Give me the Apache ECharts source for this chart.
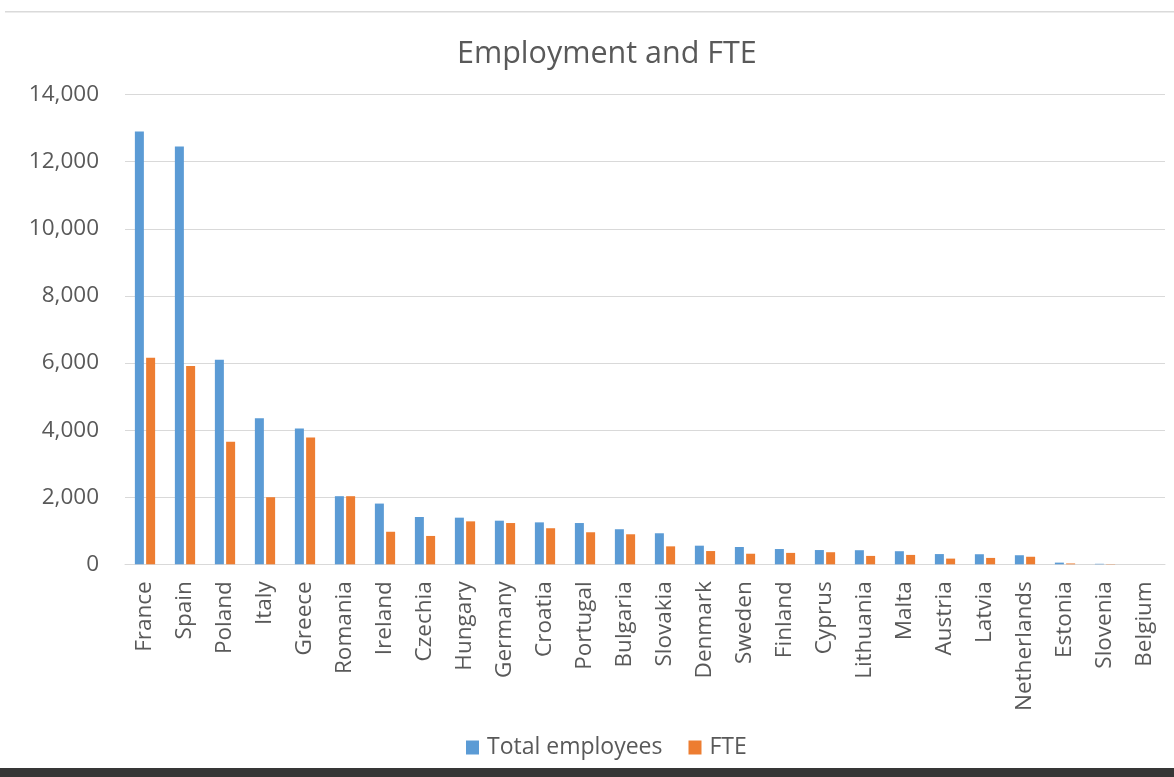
<!DOCTYPE html>
<html>
<head>
<meta charset="utf-8">
<script src="https://cdn.jsdelivr.net/npm/echarts@6/dist/echarts.min.js"></script>
<style>
  html, body { margin: 0; padding: 0; background: #fff; }
  #chart { width: 1174px; height: 777px; }
</style>
</head>
<body>
<div id="chart"></div>
<script>
const countries = ['France', 'Spain', 'Poland', 'Italy', 'Greece', 'Romania', 'Ireland', 'Czechia',
  'Hungary', 'Germany', 'Croatia', 'Portugal', 'Bulgaria', 'Slovakia', 'Denmark', 'Sweden',
  'Finland', 'Cyprus', 'Lithuania', 'Malta', 'Austria', 'Latvia', 'Netherlands', 'Estonia',
  'Slovenia', 'Belgium']

const totalEmployees = [12900, 12450, 6100, 4350, 4050, 2030, 1810, 1410,
  1390, 1300, 1250, 1230, 1045, 925, 555, 515,
  455, 425, 420, 390, 305, 300, 270, 50,
  15, 0]

const fte = [6160, 5910, 3650, 2000, 3780, 2030, 970, 845,
  1280, 1230, 1075, 955, 895, 535, 395, 315,
  340, 360, 250, 280, 170, 190, 225, 25,
  8, 0]

const yTicks = { min: 0, max: 14000, interval: 2000 }

const textColor = '#595959'
const font = 'Open Sans'

const chart = echarts.init(document.getElementById('chart'))

const option = {
  backgroundColor: '#fff',
  animation: false,
  title: {
    text: 'Employment and FTE',
    left: 452,
    top: 34,
    textStyle: { color: textColor, fontFamily: font, fontSize: 30.5, fontWeight: 'normal' }
  },
  legend: {
    data: ['Total employees', 'FTE'],
    left: 461,
    top: 731,
    icon: 'rect',
    itemWidth: 13,
    itemHeight: 14,
    itemGap: 26,
    itemStyle: { borderWidth: 0 },
    textStyle: { color: textColor, fontFamily: font, fontSize: 23, padding: [0, 0, 0, 3] }
  },
  grid: {
    left: 125,
    right: 9,
    top: 94.6,
    bottom: 212.7,
    containLabel: false
  },
  xAxis: {
    type: 'category',
    data: countries,
    axisLine: { lineStyle: { color: '#D9D9D9', width: 1 } },
    axisTick: { show: false },
    axisLabel: {
      rotate: 90,
      margin: 17,
      interval: 0,
      color: textColor,
      fontFamily: font,
      fontSize: 22.5
    }
  },
  yAxis: {
    type: 'value',
    min: yTicks.min,
    max: yTicks.max,
    interval: yTicks.interval,
    axisLine: { show: false },
    axisTick: { show: false },
    splitLine: { lineStyle: { color: '#D9D9D9', width: 1 } },
    axisLabel: {
      margin: 26,
      color: textColor,
      fontFamily: font,
      fontSize: 22.5
    }
  },
  series: [
    {
      name: 'Total employees',
      type: 'bar',
      data: totalEmployees,
      barWidth: 9,
      barGap: '25%',
      itemStyle: { color: '#5B9BD5' }
    },
    {
      name: 'FTE',
      type: 'bar',
      data: fte,
      barWidth: 9,
      barGap: '25%',
      itemStyle: { color: '#ED7D31' }
    }
  ],
  graphic: [
    {
      type: 'rect',
      shape: { x: 5, y: 11, width: 1169, height: 1.5 },
      style: { fill: '#DADADA' },
      silent: true
    },
    {
      type: 'rect',
      shape: { x: 0, y: 768, width: 1174, height: 9 },
      style: { fill: '#363636' },
      silent: true
    }
  ]
}

chart.setOption(option)
</script>
</body>
</html>
